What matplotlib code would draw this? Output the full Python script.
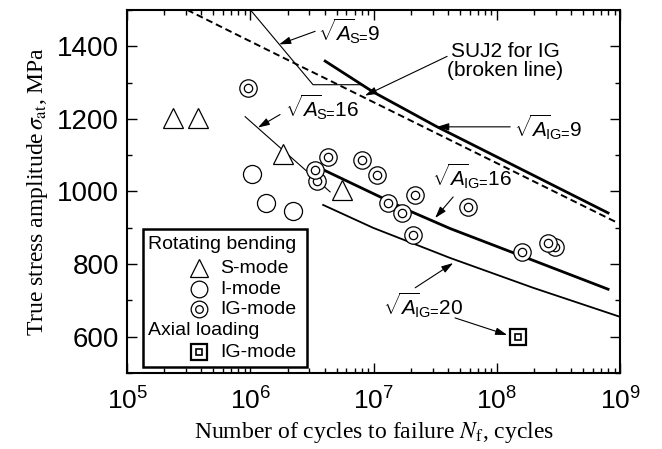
import matplotlib
matplotlib.use("Agg")
import matplotlib.pyplot as plt
from matplotlib.patches import Rectangle
from matplotlib.ticker import LogLocator, MultipleLocator, NullFormatter

plt.rcParams['font.family'] = 'Liberation Sans'
plt.rcParams['mathtext.fontset'] = 'custom'
plt.rcParams['mathtext.rm'] = 'Liberation Sans'
plt.rcParams['mathtext.it'] = 'Liberation Sans:italic'
plt.rcParams['mathtext.bf'] = 'Liberation Sans:bold'

# --- rotating bending data (cycles, MPa)
s_mode_N = [2.36e5, 3.77e5, 1.84e6, 5.55e6]
s_mode_sig = [1203, 1203, 1104, 1005]

i_mode_N = [1.03e6, 1.34e6, 2.22e6]
i_mode_sig = [1049, 969, 947]

ig_mode_N = [9.57e5, 3.47e6, 3.35e6, 4.27e6, 8.05e6, 1.07e7, 1.31e7, 1.70e7,
             2.17e7, 2.09e7, 5.83e7, 1.60e8, 2.96e8, 2.60e8]
ig_mode_sig = [1286, 1030, 1060, 1096, 1088, 1046, 968, 941,
               991, 880, 958, 834, 848, 858]

# --- axial loading
ax_ig_N = [1.48e8]
ax_ig_sig = [600]

# --- predicted curves
suj2_N = [3.07e5, 6.84e5, 2.31e6, 4.43e6, 1.85e8, 9.6e8]
suj2_sig = [1500, 1441, 1352, 1305, 1033, 913]

as9_N = [1.0e6, 3.22e6, 8.2e6]
as9_sig = [1500, 1294, 1294]

as16_N = [9.06e5, 4.43e6]
as16_sig = [1206, 999]

aig9_N = [4.04e6, 9.9e6, 3.27e7, 7.96e8]
aig9_sig = [1359, 1274, 1178, 941]

aig16_N = [3.89e6, 1.97e7, 4.17e7, 1.60e8, 7.96e8]
aig16_sig = [1060, 946, 898, 822, 731]

aig20_N = [3.89e6, 9.89e6, 4.17e7, 1.96e8, 9.95e8]
aig20_sig = [963, 900, 817, 735, 655]

fig = plt.figure(figsize=(6.62, 4.49), dpi=100)
ax = fig.add_axes([0.192, 0.169, 0.745, 0.809])

ax.plot(suj2_N, suj2_sig, c="k", lw=1.4, dashes=(3.5, 2))
ax.plot(as9_N, as9_sig, c="k", lw=0.8)
ax.plot(as16_N, as16_sig, c="k", lw=0.8)
ax.plot(aig9_N, aig9_sig, c="k", lw=2.0)
ax.plot(aig16_N, aig16_sig, c="k", lw=2.0)
ax.plot(aig20_N, aig20_sig, c="k", lw=1.3)

mk = dict(ls="none", mfc="white", mec="k", mew=0.9, zorder=5)
ax.plot(s_mode_N, s_mode_sig, marker="^", ms=14, **mk)
ax.plot(i_mode_N, i_mode_sig, marker="o", ms=13, **mk)
for n, s in zip(ig_mode_N, ig_mode_sig):
    ax.plot(n, s, marker="o", ms=12.5, **mk)
    ax.plot(n, s, marker="o", ms=6, **mk)
ax.plot(ax_ig_N, ax_ig_sig, marker="s", ms=11.5, ls="none", mfc="white", mec="k", mew=1.6, zorder=5)
ax.plot(ax_ig_N, ax_ig_sig, marker="s", ms=5, ls="none", mfc="white", mec="k", mew=1.2, zorder=6)

# annotations
arrow = dict(arrowstyle="-|>,head_length=0.7,head_width=0.22", color="k", lw=0.8, shrinkA=0, shrinkB=0)
def note(tip, start):
    ax.annotate("", xy=tip, xytext=start, arrowprops=arrow)

fs = 15
ax.text(3.54e6, 1441, r"$\sqrt{A}_{\!\!\text{S=}}$9", fontsize=fs, va="center")
note((1.71e6, 1405), (3.35e6, 1441))
ax.text(1.16e8, 1358, "SUJ2 for IG\n(broken line)", fontsize=fs, ha="center", va="center",
        multialignment="center", linespacing=1.0)
note((8.5e6, 1264), (3.94e7, 1372))
ax.text(1.38e8, 1178, r"$\sqrt{A}_{\!\!\text{IG=}}$9", fontsize=fs, va="center")
note((3.27e7, 1178), (1.28e8, 1178))
ax.text(1.91e6, 1231, r"$\sqrt{A}_{\!\!\text{S=}}$16", fontsize=fs, va="center")
note((1.15e6, 1176), (1.74e6, 1212))
ax.text(2.98e7, 1043, r"$\sqrt{A}_{\!\!\text{IG=}}$16", fontsize=fs, va="center")
note((3.15e7, 927), (4.41e7, 985))
ax.text(1.19e7, 688, r"$\sqrt{A}_{\!\!\text{IG=}}$20", fontsize=fs, va="center")
note((4.41e7, 803), (2.17e7, 735))
note((1.21e8, 605), (4.57e7, 652))

# legend box
tr = ax.transAxes
ax.add_patch(Rectangle((0.032, 0.017), 0.333, 0.380, transform=tr, fill=True, fc="white",
                       ec="k", lw=1.8, zorder=8))
lf = 14
ax.text(0.043, 0.353, "Rotating bending", transform=tr, fontsize=lf, va="center", zorder=9)
ax.text(0.043, 0.118, "Axial loading", transform=tr, fontsize=lf, va="center", zorder=9)
rows = [(0.289, "S-mode"), (0.231, "I-mode"), (0.176, "IG-mode"), (0.058, "IG-mode")]
for y, lab in rows:
    ax.text(0.188, y, lab, transform=tr, fontsize=lf, va="center", zorder=9)
lk = dict(transform=tr, ls="none", mfc="white", mec="k", zorder=9, clip_on=False)
ax.plot([0.146], [0.289], marker="^", ms=13, mew=0.9, **lk)
ax.plot([0.146], [0.231], marker="o", ms=12, mew=0.9, **lk)
ax.plot([0.146], [0.176], marker="o", ms=12, mew=0.9, **lk)
ax.plot([0.146], [0.176], marker="o", ms=5.5, mew=0.9, **lk)
ax.plot([0.146], [0.058], marker="s", ms=11, mew=1.6, **lk)
ax.plot([0.146], [0.058], marker="s", ms=5, mew=1.2, **lk)

ax.set_xscale("log")
ax.set_xlim(1e5, 1e9)
ax.set_ylim(500, 1500)
ax.yaxis.set_major_locator(MultipleLocator(200))
ax.yaxis.set_minor_locator(MultipleLocator(100))
ax.xaxis.set_major_locator(LogLocator(base=10, numticks=10))
ax.xaxis.set_minor_locator(LogLocator(base=10, subs=range(2, 10), numticks=10))
ax.xaxis.set_minor_formatter(NullFormatter())

for s in ax.spines.values():
    s.set_linewidth(1.5)
ax.tick_params(which="both", direction="in", top=True, right=True, width=1.0)
ax.tick_params(which="major", length=7)
ax.tick_params(which="minor", length=3.5)
ax.tick_params(axis="y", labelsize=20, pad=6)
ax.tick_params(axis="x", labelsize=19, pad=10)

ax.set_xlabel(r"Number of cycles to failure $N_{\mathrm{f}}$, cycles", family="Liberation Serif",
              fontsize=17, math_fontfamily="stix", labelpad=4)
ax.set_ylabel(r"True stress amplitude$\,\sigma_{\mathrm{at}}$, MPa", family="Liberation Serif",
              fontsize=17, math_fontfamily="stix", labelpad=5)

fig.savefig("out.png", dpi=100)
